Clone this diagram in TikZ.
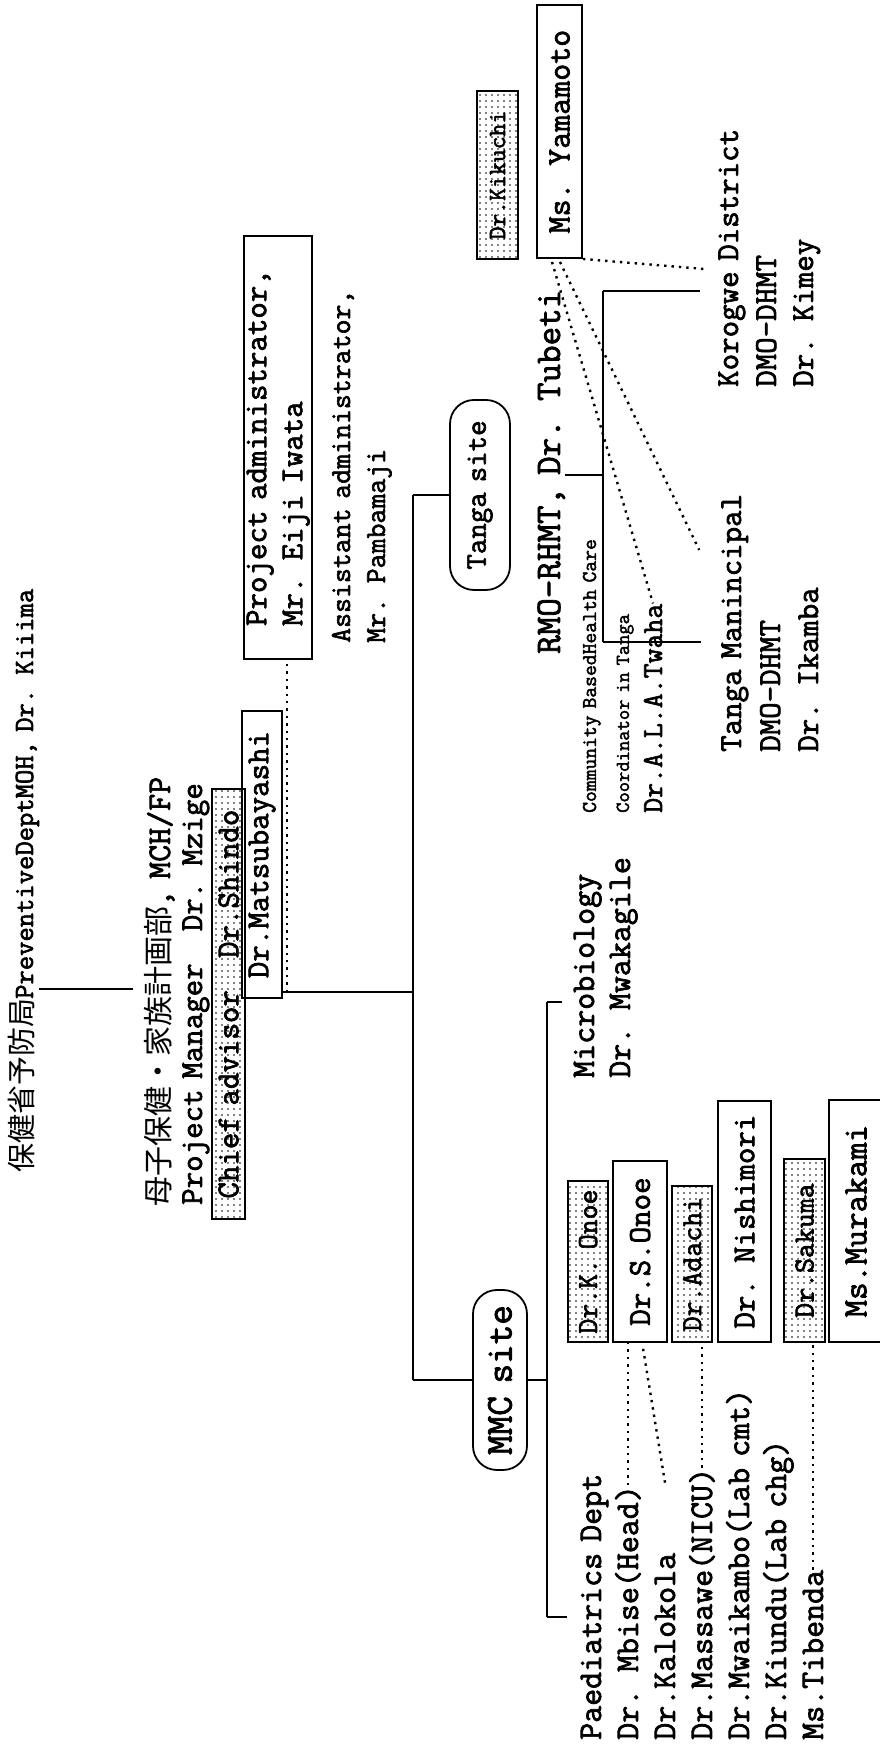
\documentclass[tikz,border=0pt]{standalone}
\usepackage{fontspec}
\newfontfamily\tw{Latin Modern Mono}[FakeBold=2.2, WordSpace=0.65]
\newfontfamily\jp{Noto Sans CJK JP}
\usetikzlibrary{patterns}
\usetikzlibrary{calc}

\pgfdeclarepatternformonly{finedots}{\pgfqpoint{-1pt}{-1pt}}{\pgfqpoint{1pt}{1pt}}{\pgfqpoint{6pt}{6pt}}{%
  \pgfpathcircle{\pgfqpoint{0pt}{0pt}}{0.9pt}\pgfusepath{fill}}

\tikzset{
  lbl/.style={inner sep=0pt, anchor=base west, font=\tw\fontsize{33}{37}\selectfont},
  namebox/.style={draw, line width=1.8pt, inner sep=0pt, anchor=south west, font=\tw\fontsize{32}{36}\selectfont},
  dotbox/.style={namebox, pattern=finedots, font=\tw\fontsize{29}{33}\selectfont},
  sitebox/.style={draw, line width=1.8pt, rounded corners=24pt, inner sep=0pt},
  link/.style={line width=1.3pt},
  trunk/.style={line width=2.8pt},
  dotline/.style={line width=2.4pt, dash pattern=on 2.4pt off 5pt},
}

\begin{document}
\begin{tikzpicture}[x=1pt,y=1pt,rotate=90,transform shape]
\useasboundingbox (0,0) rectangle (1751,880);

% ministry and MCH/FP
\node[lbl, font=\tw\fontsize{27.8}{30}\selectfont] (moh) at (578,847) {{\jp\fontsize{29}{30}\selectfont 保健省予防局}PreventiveDeptMOH, Dr. Kiiima};
\node[lbl] (mch) at (544,710) {{\jp\fontsize{30}{36}\selectfont 母子保健・家族計画部}, MCH/FP};
\node[lbl, font=\tw\fontsize{32}{36}\selectfont] (pm) at (546,678) {Project Manager\ \ \ Dr. Mzige};
\node[dotbox, font=\tw\fontsize{32}{36}\selectfont, minimum width=430, minimum height=33] (chief) at (531,634) {Chief advisor\ \ \ Dr.Shindo};
\node[namebox, minimum width=287, minimum height=40] (matsu) at (752,597) {Dr.Matsubayashi};

% administration
\node[namebox, align=left, minimum width=423, minimum height=68] (padmin) at (1091,567) {Project administrator,\\Mr. Eiji Iwata};
\node[lbl, font=\tw\fontsize{29}{35}\selectfont] (asst) at (1108,530) {Assistant administrator,};
\node[lbl, font=\tw\fontsize{29}{35}\selectfont] (pamba) at (1108,495) {Mr. Pambamaji};

% sites
\node[sitebox, font=\tw\fontsize{30}{34}\selectfont, minimum width=190, minimum height=60] (tanga) at (1256,400) {Tanga site};
\node[sitebox, font=\tw\fontsize{38}{40}\selectfont, minimum width=180, minimum height=54] (mmc) at (371,380) {MMC site};

% Tanga site
\node[lbl, font=\tw\fontsize{36}{40}\selectfont] (rmo) at (1097,320) {RMO-RHMT, Dr. Tubeti};
\node[lbl, font=\tw\fontsize{21}{24}\selectfont] (cbhc) at (938,284) {Community BasedHealth Care};
\node[lbl, font=\tw\fontsize{20}{24}\selectfont] (coord) at (938,251) {Coordinator in Tanga};
\node[lbl, font=\tw\fontsize{29}{33}\selectfont] (twaha) at (938,218) {Dr.A.L.A.Twaha};
\node[dotbox, font=\tw\fontsize{25}{28}\selectfont, minimum width=168, minimum height=41] (kikuchi) at (1491,361) {Dr.Kikuchi};
\node[namebox, font=\tw\fontsize{33}{36}\selectfont, minimum width=253, minimum height=45] (yama) at (1492,297) {Ms. Yamamoto};
\node[lbl, font=\tw\fontsize{32}{36}\selectfont] (korogwe) at (1364,142) {Korogwe District};
\node[lbl, font=\tw\fontsize{32}{36}\selectfont] (kdmo) at (1364,104) {DMO-DHMT};
\node[lbl, font=\tw\fontsize{32}{36}\selectfont] (kimey) at (1364,67) {Dr. Kimey};
\node[lbl, font=\tw\fontsize{32}{36}\selectfont] (tmun) at (999,139) {Tanga Manincipal};
\node[lbl, font=\tw\fontsize{32}{36}\selectfont] (tdmo) at (999,100) {DMO-DHMT};
\node[lbl, font=\tw\fontsize{32}{36}\selectfont] (ikamba) at (999,62) {Dr. Ikamba};

% MMC site
\node[lbl] (micro) at (673,286) {Microbiology};
\node[lbl] (mwaka) at (673,250) {Dr. Mwakagile};
\node[lbl] (paed) at (11,279) {Paediatrics Dept};
\node[lbl] (mbise) at (11,242) {Dr. Mbise(Head)};
\node[lbl] (kalok) at (11,205) {Dr.Kalokola};
\node[lbl] (massawe) at (11,168) {Dr.Massawe(NICU)};
\node[lbl] (mwaik) at (11,131) {Dr.Mwaikambo(Lab cmt)};
\node[lbl] (kiundu) at (11,94) {Dr.Kiundu(Lab chg)};
\node[lbl] (tibenda) at (11,57) {Ms.Tibenda};
\node[dotbox, minimum width=161, minimum height=40] (konoe) at (408,271) {Dr.K. Onoe};
\node[namebox, minimum width=181, minimum height=54] (sonoe) at (408,212) {Dr.S.Onoe};
\node[dotbox, minimum width=156, minimum height=40] (adachi) at (408,167) {Dr.Adachi};
\node[namebox, minimum width=241, minimum height=53] (nishi) at (408,108) {Dr. Nishimori};
\node[dotbox, minimum width=183, minimum height=41] (sakuma) at (408,54) {Dr.Sakuma};
\node[namebox, font=\tw\fontsize{34}{36}\selectfont, minimum width=242, minimum height=54] (murak) at (408,-4) {Ms.Murakami};

% solid connectors
\coordinate (fork) at (759,467);
\draw[link] ($(moh.south west)+(184,0)$) -- ($(mch.north west)+(218,12)$);
\draw[link] ($(matsu.south west)+(7,0)$) -- (fork);
\draw[trunk] (mmc.north |- fork) -- (tanga.north |- fork);
\draw[link] (mmc.north |- fork) -- (mmc.north);
\draw[link] (tanga.north |- fork) -- (tanga.north);

\coordinate (mbar) at (371,333);
\coordinate (pdrop) at (134,333);
\coordinate (mdrop) at (749,333);
\draw[link] (mmc.south) -- (mbar);
\draw[trunk] (pdrop) -- (mdrop);
\draw[link, shorten >=14pt] (pdrop) -- (pdrop |- paed.north);
\draw[link, shorten >=12pt] (mdrop) -- (mdrop |- micro.north);

\coordinate (tbar) at (1276,277);
\coordinate (kdrop) at (1460,277);
\coordinate (tdrop) at (1109,277);
\draw[link] ($(rmo.south west)+(179,0)$) -- (tbar);
\draw[trunk] (tdrop) -- (kdrop);
\draw[link, shorten >=18pt] (kdrop) -- (kdrop |- korogwe.north);
\draw[link, shorten >=20pt] (tdrop) -- (tdrop |- tmun.north);

% dotted connectors
\draw[dotline] ($(matsu.south west)+(7,-4)$) -- ($(padmin.south west)+(0,26)$);
\draw[dotline] (yama.south west) -- ($(korogwe.north west)+(118,14)$);
\draw[dotline] ($(yama.south west)+(-3,23)$) -- ($(tmun.north west)+(202,22)$);
\draw[dotline] ($(yama.south west)+(-3,31)$) -- (twaha.east);
\draw[dotline] (mbise.east) -- (sonoe.west |- mbise.east);
\draw[dotline] ($(kalok.east)+(70,0)$) -- ($(sonoe.south west)+(-5,25)$);
\draw[dotline] (massawe.east) -- (adachi.west |- massawe.east);
\draw[dotline] (tibenda.east) -- (sakuma.west |- tibenda.east);
\end{tikzpicture}
\end{document}
